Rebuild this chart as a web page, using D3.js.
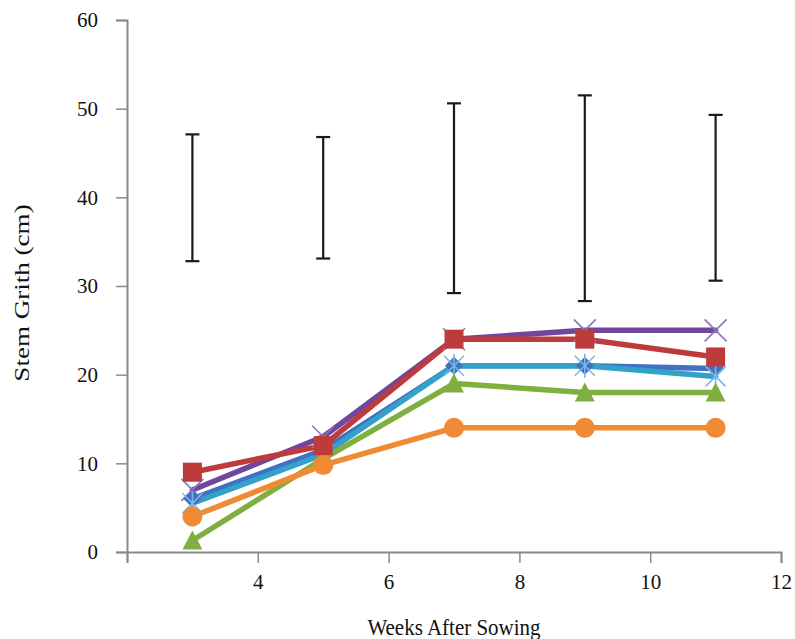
<!DOCTYPE html>
<html>
<head>
<meta charset="utf-8">
<script src="https://cdn.jsdelivr.net/npm/d3@7"></script>
<style>
  html, body { margin: 0; padding: 0; background: #ffffff; }
  svg { display: block; }
  text { font-family: "Liberation Serif", "Times New Roman", serif; fill: #111; }
</style>
</head>
<body>
<svg id="chart" width="795" height="639"></svg>
<script>
// Weeks after sowing at which stem girth was measured
const weeks = [3, 5, 7, 9, 11];

// Stem girth (cm) for each treatment
const seriesBlue   = [6, 11.5, 21, 21, 20.7];
const seriesRed    = [9, 12, 24, 24, 22];
const seriesGreen  = [1.3, 10.5, 19, 18, 18];
const seriesPurple = [7, 13, 24, 25, 25];
const seriesAqua   = [5.5, 11, 21, 21, 19.8];
const seriesOrange = [4, 9.8, 14, 14, 14];

// Error bar extents (lower, upper) at each week
const errLow  = [32.8, 33.1, 29.2, 28.3, 30.6];
const errHigh = [47.1, 46.8, 50.6, 51.5, 49.3];

// Axis ticks
const xTicks = [2, 4, 6, 8, 10, 12];
const yTicks = [0, 10, 20, 30, 40, 50, 60];

const series = [
  { name: "T1", values: seriesBlue,   color: "#3f72c0", marker: "diamond" },
  { name: "T2", values: seriesRed,    color: "#be3b3c", marker: "square" },
  { name: "T3", values: seriesGreen,  color: "#7fb03f", marker: "triangle" },
  { name: "T4", values: seriesPurple, color: "#70479c", marker: "x" },
  { name: "T5", values: seriesAqua,   color: "#33a1c9", marker: "star" },
  { name: "T6", values: seriesOrange, color: "#f08a35", marker: "circle" }
];

const svg = d3.select("#chart");
const margin = { left: 127, right: 14, top: 20, bottom: 87 };
const W = 795, H = 639;

const x = d3.scaleLinear().domain([2, 12]).range([margin.left, W - margin.right]);
const y = d3.scaleLinear().domain([0, 60]).range([H - margin.bottom, margin.top]);

const axisColor = "#8a8a8a";

// Y axis
const gy = svg.append("g")
  .attr("transform", `translate(${margin.left},0)`)
  .call(d3.axisLeft(y).tickValues(yTicks).tickSize(11).tickPadding(18).tickFormat(d3.format("d")));
gy.select(".domain").attr("stroke", axisColor).attr("stroke-width", 2);
gy.selectAll(".tick line").attr("stroke", axisColor).attr("stroke-width", 1.5);
gy.selectAll(".tick text").attr("font-size", 21).style("font-family", "Liberation Serif, serif").attr("fill", "#111");

// X axis
const gx = svg.append("g")
  .attr("transform", `translate(0,${y(0)})`)
  .call(d3.axisBottom(x).tickValues(xTicks).tickSize(11).tickPadding(11)
    .tickFormat(d => d === 2 ? "" : d));
gx.select(".domain").attr("stroke", axisColor).attr("stroke-width", 2);
gx.selectAll(".tick line").attr("stroke", axisColor).attr("stroke-width", 1.5);
gx.selectAll(".tick text").attr("font-size", 21).style("font-family", "Liberation Serif, serif").attr("fill", "#111");

// Axis titles
svg.append("text")
  .attr("transform", `translate(${(x(2) + x(12)) / 2},635) scale(1,1.12)`)
  .attr("text-anchor", "middle")
  .attr("font-size", 21)
  .text("Weeks After Sowing");

svg.append("text")
  .attr("transform", `translate(29,293) rotate(-90) scale(1.23,1)`)
  .attr("text-anchor", "middle")
  .attr("font-size", 22)
  .text("Stem Grith (cm)");

// Error bars
const eb = svg.append("g").attr("stroke", "#1a1a1a").attr("stroke-width", 2.2);
weeks.forEach((w, i) => {
  eb.append("line").attr("x1", x(w)).attr("x2", x(w)).attr("y1", y(errLow[i])).attr("y2", y(errHigh[i]));
  eb.append("line").attr("x1", x(w) - 7).attr("x2", x(w) + 7).attr("y1", y(errLow[i])).attr("y2", y(errLow[i]));
  eb.append("line").attr("x1", x(w) - 7).attr("x2", x(w) + 7).attr("y1", y(errHigh[i])).attr("y2", y(errHigh[i]));
});

// Lines
const line = d3.line().x((d, i) => x(weeks[i])).y(d => y(d));
const drawOrder = [3, 0, 4, 2, 1, 5];
const linesG = svg.append("g");
drawOrder.forEach(k => {
  const s = series[k];
  linesG.append("path")
    .attr("d", line(s.values))
    .attr("fill", "none")
    .attr("stroke", s.color)
    .attr("stroke-width", 5.5)
    .attr("stroke-linejoin", "round")
    .attr("stroke-linecap", "round");
});

// Markers
function markerPath(type) {
  switch (type) {
    case "diamond": return "M0,-9L9,0L0,9L-9,0Z";
    case "square": return "M-9.5,-9.5H9.5V9.5H-9.5Z";
    case "triangle": return "M0,-10L10,9L-10,9Z";
    case "circle": return d3.symbol(d3.symbolCircle, Math.PI * 10 * 10)();
    case "x": return "M-11,-11L11,11M-11,11L11,-11";
    case "star": return "M-10,-10L10,10M-10,10L10,-10M0,-12V12";
  }
}
const markersG = svg.append("g");
drawOrder.forEach(k => {
  const s = series[k];
  const stroked = s.marker === "x" || s.marker === "star";
  markersG.selectAll(null)
    .data(s.values)
    .join("path")
    .attr("transform", (d, i) => `translate(${x(weeks[i])},${y(d)})`)
    .attr("d", markerPath(s.marker))
    .attr("fill", stroked ? "none" : s.color)
    .attr("stroke", stroked ? (s.marker === "x" ? "#8a78b8" : "#7fb6e0") : "none")
    .attr("stroke-width", stroked ? 1.6 : 0);
});
</script>
</body>
</html>
